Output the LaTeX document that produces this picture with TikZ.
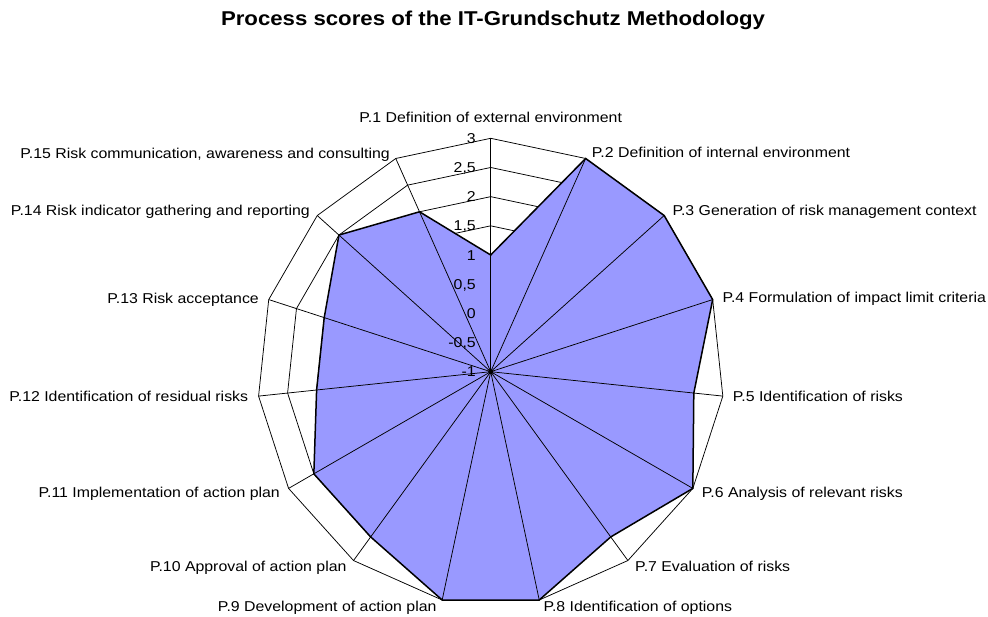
\documentclass[tikz,border=0pt]{standalone}
\usepackage{fontspec}
\setmainfont[FakeStretch=1.11]{Liberation Sans}
\definecolor{seriesblue}{HTML}{9999FF}
\begin{document}
\begin{tikzpicture}[x=1pt,y=-1pt,
  grid/.style={black, line width=0.75pt},
  series/.style={fill=seriesblue, draw=black, line width=1.5pt, line join=miter},
  axislabel/.style={inner sep=0pt, font=\fontsize{14.3}{16}\selectfont},
  ticklabel/.style={inner sep=0pt, anchor=base east, font=\fontsize{14.3}{16}\selectfont}]
\useasboundingbox (0,0) rectangle (988,616);

% centre of the radar and one scale unit (value -1 at the centre, 3 at the rim)
\def\cx{490.7}
\def\cy{371.7}
\def\ur{58.35}
\coordinate (c) at (\cx,\cy);

% title
\node[inner sep=0pt, font=\bfseries\fontsize{20}{24}\selectfont] (title) at (493,20)
  {Process scores of the IT-Grundschutz Methodology};

% outer end of each of the 15 axes
\foreach \i in {0,...,14}
  \coordinate (o\i) at ({\cx+4*\ur*sin(24*\i)},{\cy-4*\ur*cos(24*\i)});

% grid rings every 0.5
\foreach \v in {-0.5,0,...,3}
  \draw[grid] plot[samples at={0,...,14}]
    ({\cx+(\v+1)*\ur*sin(24*\x)},{\cy-(\v+1)*\ur*cos(24*\x)}) -- cycle;

% data series
\foreach \v [count=\i from 0] in {1,3,3,3,2.5,3,2.5,3,3,2.5,2.5,2,2,2.5,2}
  \coordinate (d\i) at ({\cx+(\v+1)*\ur*sin(24*\i)},{\cy-(\v+1)*\ur*cos(24*\i)});
\draw[series] (d0) -- (d1) -- (d2) -- (d3) -- (d4) -- (d5) -- (d6) -- (d7)
  -- (d8) -- (d9) -- (d10) -- (d11) -- (d12) -- (d13) -- (d14) -- cycle;

% spokes
\foreach \i in {0,...,14}
  \draw[grid] (c) -- (o\i);
\fill (c) circle (2.5);

% scale labels along the first axis
\foreach \v/\t [count=\k] in {-1/-1,-0.5/{-0,5},0/0,0.5/{0,5},1/1,1.5/{1,5},2/2,2.5/{2,5},3/3}
  \node[ticklabel] (tick\k) at (476,{\cy-(\v+1)*\ur+5}) {\t};

% axis labels
\node[axislabel, anchor=base]      (p1)  at (490.7,122)   {P.1 Definition of external environment};
\node[axislabel, anchor=base west] (p2)  at (591.7,157.7) {P.2 Definition of internal environment};
\node[axislabel, anchor=base west] (p3)  at (672.3,215.7) {P.3 Generation of risk management context};
\node[axislabel, anchor=base west] (p4)  at (722.3,302.7) {P.4 Formulation of impact limit criteria};
\node[axislabel, anchor=base west] (p5)  at (732.7,401.7) {P.5 Identification of risks};
\node[axislabel, anchor=base west] (p6)  at (701.7,497)   {P.6 Analysis of relevant risks};
\node[axislabel, anchor=base west] (p7)  at (635,571)     {P.7 Evaluation of risks};
\node[axislabel, anchor=base west] (p8)  at (543.3,611.7) {P.8 Identification of options};
\node[axislabel, anchor=base east] (p9)  at (436.7,611.7) {P.9 Development of action plan};
\node[axislabel, anchor=base east] (p10) at (346.7,571.7) {P.10 Approval of action plan};
\node[axislabel, anchor=base east] (p11) at (280,497.7)   {P.11 Implementation of action plan};
\node[axislabel, anchor=base east] (p12) at (248.3,401.7) {P.12 Identification of residual risks};
\node[axislabel, anchor=base east] (p13) at (259,303.3)   {P.13 Risk acceptance};
\node[axislabel, anchor=base east] (p14) at (310,215.7)   {P.14 Risk indicator gathering and reporting};
\node[axislabel, anchor=base east] (p15) at (390,158.3)   {P.15 Risk communication, awareness and consulting};
\end{tikzpicture}
\end{document}
